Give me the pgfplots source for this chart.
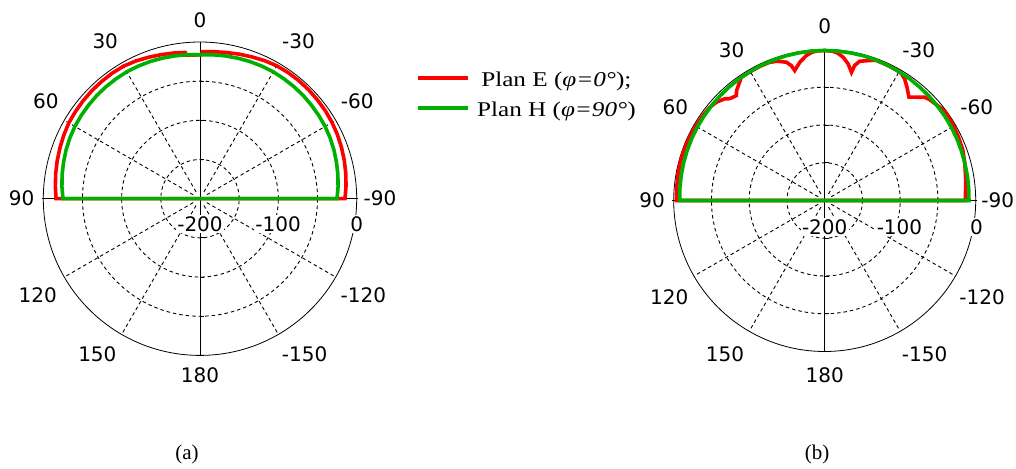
\documentclass[border=0pt]{standalone}
\usepackage{fontspec}
\setmainfont{Liberation Serif}
\newfontfamily\legfont[FakeStretch=1.2]{Liberation Serif}
\newfontfamily\tickfont{DejaVu Sans}
\usepackage{pgfplots}
\usepackage{pgfplotstable}
\pgfplotsset{compat=1.18}
\usepgfplotslibrary{polar}
\definecolor{pred}{RGB}{255,0,0}
\definecolor{pgreen}{RGB}{0,176,0}
\newcommand\tf{\tickfont\fontsize{20}{24}\selectfont}

% (a) values: angle (deg, 0 = top, positive = counter-clockwise), level (dB)
\pgfplotstableread{
a v
-90 -200
-90 -14.9
-85 -12.9
-80 -11.1
-75 -9.4
-70 -7.9
-65 -6.5
-60 -5.4
-55 -4.6
-50 -4.1
-45 -3.7
-40 -3.5
-35 -3.6
-30 -4.1
-25 -5.5
-20 -7.3
-15 -8.9
-10 -10.5
-5 -11.6
-1 -12.4
-0.5 -16.2
5.3 -16.2
5.8 -12.4
10 -11.1
15 -9.6
20 -7.9
25 -6.1
30 -4.7
35 -4.5
40 -4.7
45 -4.9
50 -5.4
55 -6.0
60 -6.6
65 -8.2
70 -9.8
75 -11.4
80 -13.0
85 -14.7
90 -16.2
90 -200
}\redA
\pgfplotstableread{
a v
-90 -200
-90 -25.1
-85 -23.1
-80 -21.3
-75 -19.7
-70 -18.1
-65 -16.7
-60 -15.6
-55 -14.9
-50 -14.3
-45 -13.7
-40 -13.4
-35 -13.2
-30 -13.0
-25 -13.3
-20 -13.7
-15 -14.3
-10 -14.9
-5 -15.6
0 -16.2
5 -15.6
10 -14.9
15 -14.3
20 -13.7
25 -13.3
30 -13.0
35 -13.2
40 -13.4
45 -13.7
50 -14.3
55 -14.9
60 -15.6
65 -16.7
70 -18.1
75 -19.7
80 -21.3
85 -23.1
90 -25.1
90 -200
}\greenA
% (b)
\pgfplotstableread{
a v
-90 -200
-90 -13.6
-87 -13.3
-85 -12.6
-80 -10.6
-75 -7.9
-70 -5.3
-65 -4.0
-60 -2.7
-54.5 -2.1
-52 -2.9
-50 -4.6
-48 -6.0
-46 -7.3
-44 -9.8
-42 -15.9
-40 -21.3
-39.2 -23.4
-36 -14.6
-33.3 -7.2
-31 -3.3
-28 -2.7
-24 -2.4
-20 -2.3
-17.8 -5.3
-14.1 -9.8
-12.5 -16.8
-11.8 -26.5
-9.7 -16.3
-7.3 -8.6
-5 -4.0
-3 -2.0
0 -1.3
3 -1.6
5 -3.0
7.2 -6.4
10.2 -13.9
13 -23.3
13.9 -15.9
15.5 -9.9
19 -4.8
22 -2.9
26 -2.7
30 -2.9
34 -2.9
36.5 -8.6
38.7 -13.4
40.1 -18.3
43 -15.6
44.5 -11.1
47.8 -6.2
51 -4.0
55 -3.3
60 -2.7
65 -2.3
70 -2.0
75 -2.1
80 -2.7
85 -3.2
88 -3.6
90 -3.6
90 -200
}\redB
\pgfplotstableread{
a v
-90 -200
-90 -8.9
-85 -8.6
-80 -8.2
-75 -7.9
-70 -7.4
-65 -6.8
-60 -6.2
-55 -5.7
-50 -5.2
-45 -4.6
-40 -4.1
-35 -3.4
-30 -2.9
-25 -2.4
-20 -2.0
-15 -1.6
-10 -1.5
-5 -1.3
0 -1.3
5 -1.3
10 -1.5
15 -1.6
20 -1.9
25 -2.3
30 -2.7
35 -3.0
40 -3.4
45 -4.0
50 -4.4
55 -4.9
60 -5.3
65 -5.7
70 -6.2
75 -6.6
80 -7.0
85 -7.5
90 -7.9
90 -200
}\greenB

\tikzset{gridst/.style={black, line width=0.9pt, dash pattern=on 3.5pt off 3pt}}
\pgfplotsset{
  pstyle/.style={
    scale only axis,
    xmin=0, xmax=360, ymin=0, ymax=200,
    xtick={0,30,...,330}, ytick={50,100,150},
    xticklabels={}, yticklabels={},
    xmajorgrids=false, ymajorgrids=true,
    major grid style={gridst},
    axis line style={black, line width=0.8pt},
    tick style={draw=none},
    clip=false,
  },
  redp/.style={draw=pred, line width=3.6pt, no markers},
  greenp/.style={draw=pgreen, line width=3.6pt, no markers},
}

\begin{document}
\begin{tikzpicture}[x=1pt,y=1pt]
\useasboundingbox (0,0) rectangle (1016,468);

% ---------------- (a) ----------------
\begin{polaraxis}[pstyle,
  at={(200pt,269.3pt)}, anchor=center,
  width=313.4pt, height=313.4pt,
  legend style={draw=none, fill=none, at={(1.19,0.917)}, anchor=north west,
    inner sep=0pt, outer sep=0pt,
    font=\legfont\fontsize{21}{25}\selectfont, row sep=10pt,
    nodes={inner sep=0pt, text height=18pt, text depth=2pt}},
  legend cell align=center,
  legend image code/.code={\draw[#1, line width=4pt] (0pt,0pt) -- (50pt,0pt); \path (57pt,0pt);},
]
\pgfplotsinvokeforeach{0,30,60,120,150,180,210,240,300,330}{
  \draw[gridst] (axis cs:#1,10) -- (axis cs:#1,200);
}
\draw[black, line width=0.8pt] (axis cs:90,200) -- (axis cs:270,200);
\draw[black, line width=0.8pt] (axis cs:0,202) -- (axis cs:180,202);
\pgfplotsinvokeforeach{50,100,150}{
  \draw[black, line width=0.8pt] (axis cs:90,#1) -- ++(4pt,0pt);
  \draw[black, line width=0.8pt] (axis cs:270,#1) -- ++(4pt,0pt);
}
\addplot[redp] table[x expr=\thisrow{a}+90, y expr=\thisrow{v}+200] {\redA};
\addlegendentry{Plan E (\textit{φ=0°});}
\addplot[greenp] table[x expr=\thisrow{a}+90, y expr=\thisrow{v}+200] {\greenA};
\addlegendentry{Plan H (\textit{φ=90°})}
\node[font=\tf] at (axis cs:90,227.8) {0};
\node[font=\tf] at (axis cs:121,234.8) {30};
\node[font=\tf] at (axis cs:147.7,232.9) {60};
\node[font=\tf] at (axis cs:180,227.6) {90};
\node[font=\tf] at (axis cs:210.8,241.2) {120};
\node[font=\tf] at (axis cs:236.5,237.4) {150};
\node[font=\tf] at (axis cs:270,225.9) {180};
\node[font=\tf] at (axis cs:304,238.7) {-150};
\node[font=\tf] at (axis cs:329.3,242.5) {-120};
\node[font=\tf] at (axis cs:0,229.7) {-90};
\node[font=\tf] at (axis cs:31.8,236.1) {-60};
\node[font=\tf] at (axis cs:58,237.4) {-30};
\node[font=\tf, fill=white, inner sep=1.5pt, yshift=-25.3pt] at (axis cs:0,0) {-200};
\node[font=\tf, fill=white, inner sep=1.5pt, yshift=-25.3pt] at (axis cs:0,99.6) {-100};
\node[font=\tf, fill=white, inner sep=1.5pt, yshift=-25.3pt] at (axis cs:0,200) {0};
\end{polaraxis}

% ---------------- (b) ----------------
\begin{polaraxis}[pstyle,
  at={(824.7pt,267.5pt)}, anchor=center,
  width=302pt, height=302pt,
]
\pgfplotsinvokeforeach{0,30,60,120,150,180,210,240,300,330}{
  \draw[gridst] (axis cs:#1,10) -- (axis cs:#1,200);
}
\draw[black, line width=0.8pt] (axis cs:90,200) -- (axis cs:270,200);
\draw[black, line width=0.8pt] (axis cs:0,202) -- (axis cs:180,202);
\pgfplotsinvokeforeach{50,100,150}{
  \draw[black, line width=0.8pt] (axis cs:90,#1) -- ++(4pt,0pt);
  \draw[black, line width=0.8pt] (axis cs:270,#1) -- ++(4pt,0pt);
}
\addplot[redp] table[x expr=\thisrow{a}+90, y expr=\thisrow{v}+200] {\redB};
\addplot[greenp] table[x expr=\thisrow{a}+90, y expr=\thisrow{v}+200] {\greenB};
\node[font=\tf] at (axis cs:90,231.1) {0};
\node[font=\tf] at (axis cs:121.7,234.4) {30};
\node[font=\tf] at (axis cs:148,233.1) {60};
\node[font=\tf] at (axis cs:180,228.5) {90};
\node[font=\tf] at (axis cs:211.8,242.4) {120};
\node[font=\tf] at (axis cs:237,242.4) {150};
\node[font=\tf] at (axis cs:270,231.8) {180};
\node[font=\tf] at (axis cs:303.1,242.4) {-150};
\node[font=\tf] at (axis cs:328.5,244.6) {-120};
\node[font=\tf] at (axis cs:0,229.1) {-90};
\node[font=\tf] at (axis cs:31.6,236.4) {-60};
\node[font=\tf] at (axis cs:58,235) {-30};
\node[font=\tf, fill=white, inner sep=1.5pt, yshift=-26.5pt] at (axis cs:0,0) {-200};
\node[font=\tf, fill=white, inner sep=1.5pt, yshift=-26.5pt] at (axis cs:0,99) {-100};
\node[font=\tf, fill=white, inner sep=1.5pt, yshift=-26.5pt] at (axis cs:0,201) {0};
\end{polaraxis}

\node[font=\fontsize{21}{25}\selectfont] at (187,14) {(a)};
\node[font=\fontsize{21}{25}\selectfont] at (817,14) {(b)};
\end{tikzpicture}
\end{document}
